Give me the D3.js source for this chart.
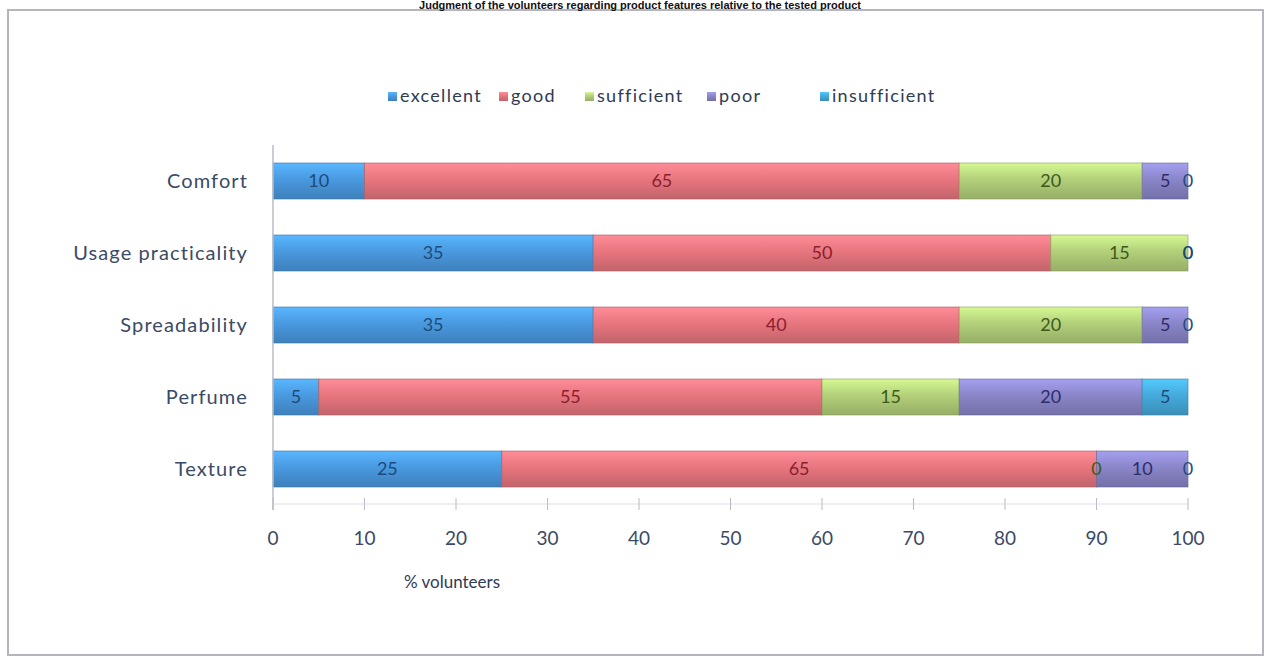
<!DOCTYPE html>
<html>
<head>
  <script src="https://d3js.org/d3.v7.min.js"></script>
  <style>
    body { margin: 0; background: #fff; }
    svg { display: block; font-family: Lato, 'Open Sans', sans-serif; }
    .cat-label { font-size: 20px; letter-spacing: 1.1px; fill: #3b4a66; text-anchor: end; }
    .tick-label { font-size: 19px; fill: #3b4a66; text-anchor: middle; }
    .legend-label { font-size: 18px; letter-spacing: 1.3px; fill: #2e3b55; }
    .val-label { font-size: 18px; text-anchor: middle; }
  </style>
</head>
<body>
  <svg id="chart" width="1272" height="661"></svg>
  <script>
    const categories = ["Comfort", "Usage practicality", "Spreadability", "Perfume", "Texture"];
    const seriesNames = ["excellent", "good", "sufficient", "poor", "insufficient"];
    const excellent = [10, 35, 35, 5, 25];
    const good = [65, 50, 40, 55, 65];
    const sufficient = [20, 15, 20, 15, 0];
    const poor = [5, 0, 5, 20, 10];
    const insufficient = [0, 0, 0, 5, 0];
    const xTicks = [0, 10, 20, 30, 40, 50, 60, 70, 80, 90, 100];

    const colors = ["#4a99e0", "#e8767f", "#b3d07a", "#8a86c9", "#45aadb"];
    const textColors = ["#1d4b7a", "#8a1f2e", "#3d5a1c", "#2c2d6a", "#1d4b7a"];

    const svg = d3.select("#chart");
    const defs = svg.append("defs");

    // bar shading, light on top, darker bottom
    colors.forEach((c, i) => {
      const g = defs.append("linearGradient")
        .attr("id", "grad" + i)
        .attr("x1", "0%").attr("y1", "0%")
        .attr("x2", "0%").attr("y2", "100%");
      g.append("stop").attr("offset", "0%").attr("stop-color", d3.color(c).brighter(0.5));
      g.append("stop").attr("offset", "45%").attr("stop-color", c);
      g.append("stop").attr("offset", "100%").attr("stop-color", d3.color(c).darker(0.5));
    });

    // frame
    svg.append("rect")
      .attr("x", 8).attr("y", 10)
      .attr("width", 1255).attr("height", 645)
      .attr("fill", "#fff")
      .attr("stroke", "#b5b5c0")
      .attr("stroke-width", 2);

    // title above the frame
    svg.append("text")
      .attr("x", 640).attr("y", 9)
      .attr("text-anchor", "middle")
      .attr("font-size", 11)
      .attr("font-weight", "bold")
      .attr("font-family", "Liberation Sans, Arial, sans-serif")
      .attr("fill", "#111")
      .text("Judgment of the volunteers regarding product features relative to the tested product");

    const x = d3.scaleLinear().domain([0, 100]).range([273, 1188]);
    const y = d3.scaleBand().domain(categories).range([145, 505]).paddingInner(0.5).paddingOuter(0.25);

    const table = categories.map((cat, i) => ({
      cat,
      excellent: excellent[i],
      good: good[i],
      sufficient: sufficient[i],
      poor: poor[i],
      insufficient: insufficient[i]
    }));
    const stacked = d3.stack().keys(seriesNames)(table);

    // legend
    const legendX = [388, 499, 585, 707, 820];
    const legend = svg.append("g");
    seriesNames.forEach((name, i) => {
      const g = legend.append("g").attr("transform", `translate(${legendX[i]}, 98)`);
      g.append("rect")
        .attr("x", 0).attr("y", -6)
        .attr("width", 9).attr("height", 9)
        .attr("fill", `url(#grad${i})`);
      g.append("text")
        .attr("class", "legend-label")
        .attr("x", 12).attr("y", 4)
        .text(name);
    });

    // bars
    stacked.forEach((layer, i) => {
      svg.append("g")
        .selectAll("rect")
        .data(layer)
        .join("rect")
        .attr("x", d => x(d[0]))
        .attr("y", d => y(d.data.cat))
        .attr("width", d => x(d[1]) - x(d[0]))
        .attr("height", y.bandwidth())
        .attr("fill", `url(#grad${i})`)
        .attr("stroke", d3.color(colors[i]).darker(0.8))
        .attr("stroke-width", 1)
        .attr("stroke-opacity", 0.6);
    });

    // value labels
    stacked.forEach((layer, i) => {
      svg.append("g")
        .selectAll("text")
        .data(layer)
        .join("text")
        .attr("class", "val-label")
        .attr("fill", textColors[i])
        .attr("x", d => (x(d[0]) + x(d[1])) / 2)
        .attr("y", d => y(d.data.cat) + y.bandwidth() / 2 + 6)
        .text(d => d[1] - d[0]);
    });

    // y axis line
    svg.append("line")
      .attr("x1", x(0)).attr("x2", x(0))
      .attr("y1", 145).attr("y2", 510)
      .attr("stroke", "#b8bcc8").attr("stroke-width", 1.5);

    // category labels
    svg.append("g")
      .selectAll("text")
      .data(categories)
      .join("text")
      .attr("class", "cat-label")
      .attr("x", 248)
      .attr("y", d => y(d) + y.bandwidth() / 2 + 7)
      .text(d => d);

    // x axis
    svg.append("line")
      .attr("x1", x(0)).attr("x2", x(100))
      .attr("y1", 504).attr("y2", 504)
      .attr("stroke", "#dcdfe5").attr("stroke-width", 1);

    svg.append("g")
      .selectAll("line")
      .data(xTicks)
      .join("line")
      .attr("x1", d => x(d)).attr("x2", d => x(d))
      .attr("y1", 498).attr("y2", 510)
      .attr("stroke", "#b8bcc8");

    svg.append("g")
      .selectAll("text")
      .data(xTicks)
      .join("text")
      .attr("class", "tick-label")
      .attr("x", d => x(d))
      .attr("y", 545)
      .text(d => d);

    svg.append("text")
      .attr("x", 452).attr("y", 588)
      .attr("text-anchor", "middle")
      .attr("font-size", 17)
      .attr("fill", "#2e3b55")
      .text("% volunteers");
  </script>
</body>
</html>
